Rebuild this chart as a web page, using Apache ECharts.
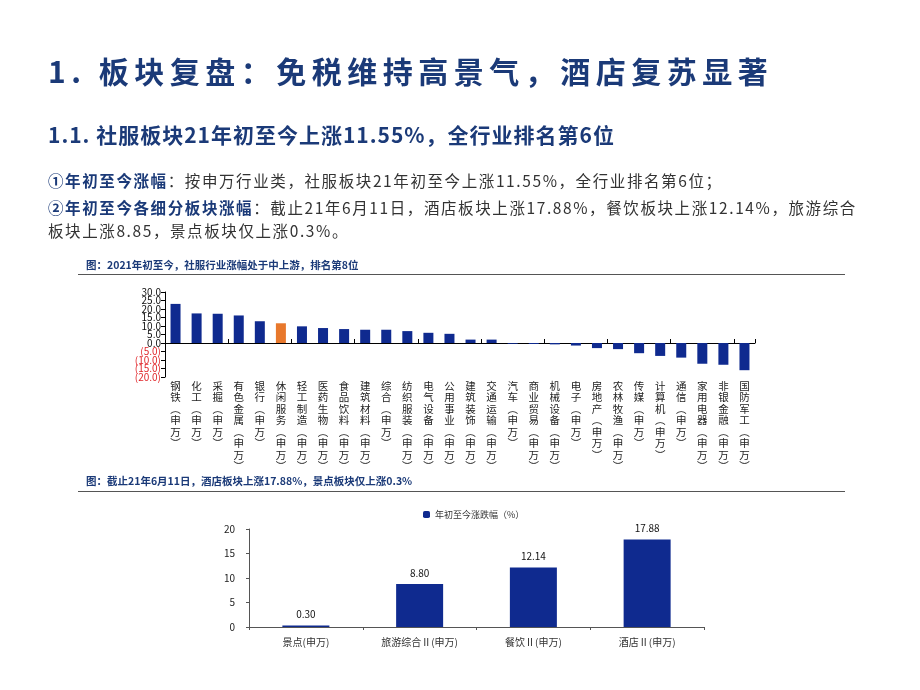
<!DOCTYPE html>
<html>
<head>
<meta charset="utf-8">
<script src="https://cdn.jsdelivr.net/npm/echarts@6/dist/echarts.min.js"></script>
<style>
  body { margin: 0; background: #fff; font-family: "Noto Sans CJK SC", sans-serif; }
  #chart { position: absolute; left: 0; top: 0; width: 920px; height: 690px; }
  .t { position: absolute; white-space: nowrap; }
  .blue { color: #1b3a78; font-weight: bold; }
  .line { position: absolute; height: 1px; background: #555; }
</style>
</head>
<body>
<div id="chart"></div>
<div class="t blue" style="left:48px;top:48px;font-size:30px;letter-spacing:5.5px;">1. 板块复盘：免税维持高景气，酒店复苏显著</div>
<div class="t blue" style="left:48px;top:119px;font-size:21px;letter-spacing:1px;">1.1. 社服板块21年初至今上涨11.55%，全行业排名第6位</div>
<div class="t" style="left:48px;top:169px;font-size:15.5px;letter-spacing:1.6px;color:#333;"><span class="blue">①年初至今涨幅</span>：按申万行业类，社服板块21年初至今上涨11.55%，全行业排名第6位；</div>
<div class="t" style="left:48px;top:196px;font-size:15.5px;letter-spacing:1.6px;color:#333;"><span class="blue">②年初至今各细分板块涨幅</span>：截止21年6月11日，酒店板块上涨17.88%，餐饮板块上涨12.14%，旅游综合</div>
<div class="t" style="left:48px;top:219px;font-size:15.5px;letter-spacing:1.6px;color:#333;">板块上涨8.85，景点板块仅上涨0.3%。</div>
<div class="t blue" style="left:86px;top:257px;font-size:10.5px;">图：2021年初至今，社服行业涨幅处于中上游，排名第8位</div>
<div class="line" style="left:78px;top:274px;width:767px;"></div>
<div class="t blue" style="left:86px;top:473px;font-size:10.5px;">图：截止21年6月11日，酒店板块上涨17.88%，景点板块仅上涨0.3%</div>
<div class="line" style="left:78px;top:491px;width:767px;"></div>
<script>
// 申万一级行业 年初至今涨幅
const industries = ['钢铁', '化工', '采掘', '有色金属', '银行', '休闲服务', '轻工制造', '医药生物',
    '食品饮料', '建筑材料', '综合', '纺织服装', '电气设备', '公用事业', '建筑装饰', '交通运输',
    '汽车', '商业贸易', '机械设备', '电子', '房地产', '农林牧渔', '传媒', '计算机', '通信',
    '家用电器', '非银金融', '国防军工'];
const industryValues = [23.0, 17.4, 17.2, 16.2, 12.8, 11.6, 9.8, 8.8, 8.2, 7.8, 7.8, 7.0, 6.0, 5.4,
    2.0, 2.0, -0.5, -0.6, -0.8, -1.5, -3.0, -3.6, -6.0, -7.6, -8.6, -12.2, -12.8, -16.0];
const highlight = '休闲服务';
// 纵轴刻度标签（自下而上）
const yTickLabels = ['(20.0)', '(15.0)', '(10.0)', '(5.0)', '0.0', '5.0', '10.0', '15.0', '20.0', '25.0', '30.0'];

// 社服细分板块
const subSectors = ['景点(申万)', '旅游综合Ⅱ(申万)', '餐饮Ⅱ(申万)', '酒店Ⅱ(申万)'];
const subValues = [0.30, 8.80, 12.14, 17.88];

const BLUE = '#0f2a8f';
const ORANGE = '#e8782c';

// 竖排标签
function vertical(name) {
    return (name + '︵申万︶').split('').join('\n');
}

const chart = echarts.init(document.getElementById('chart'));
chart.setOption({
    animation: false,
    textStyle: { fontFamily: 'Noto Sans CJK SC' },
    legend: {
        data: ['年初至今涨跌幅（%）'],
        left: 418, top: 505,
        itemWidth: 7, itemHeight: 7, itemGap: 2,
        textStyle: { fontSize: 9, color: '#333' }
    },
    grid: [
        { left: 165, top: 292, width: 590, height: 85 },
        { left: 249, top: 529, width: 455, height: 98 }
    ],
    xAxis: [
        {
            gridIndex: 0, type: 'category', data: industries,
            axisLine: { onZero: true, lineStyle: { color: '#000' } },
            axisTick: { show: true, length: 4, inside: true },
            axisLabel: { show: false }
        },
        {
            gridIndex: 0, type: 'category', data: industries, position: 'bottom',
            axisLine: { show: false }, axisTick: { show: false },
            axisLabel: {
                interval: 0, margin: 3, fontSize: 10.5, lineHeight: 11.5, color: '#222',
                verticalAlign: 'top',
                formatter: vertical
            }
        },
        {
            gridIndex: 1, type: 'category', data: subSectors,
            axisLine: { lineStyle: { color: '#555' } },
            axisTick: { show: true, length: 3 },
            axisLabel: { fontSize: 10, color: '#333', margin: 10 }
        }
    ],
    yAxis: [
        {
            gridIndex: 0, type: 'value', min: -20, max: 30, interval: 5,
            axisLine: { show: true, lineStyle: { color: '#000' } },
            axisTick: { show: true, length: 4 },
            splitLine: { show: false },
            axisLabel: { show: false }
        },
        {
            gridIndex: 1, type: 'value', min: 0, max: 20, interval: 5,
            axisLine: { show: true, lineStyle: { color: '#555' } },
            axisTick: { show: true, length: 3 },
            splitLine: { show: false },
            axisLabel: { fontSize: 10, color: '#222', margin: 14 }
        },
        {
            gridIndex: 0, type: 'category', data: yTickLabels, boundaryGap: false,
            position: 'left',
            axisLine: { show: false }, axisTick: { show: false },
            axisLabel: {
                interval: 0, hideOverlap: false, margin: 4, fontSize: 10, lineHeight: 8,
                color: v => v.charAt(0) === '(' ? '#e0262a' : '#111'
            }
        }
    ],
    series: [
        {
            type: 'bar', xAxisIndex: 0, yAxisIndex: 0, barWidth: 10,
            data: industryValues.map((v, i) => ({
                value: v,
                itemStyle: { color: industries[i] === highlight ? ORANGE : BLUE }
            }))
        },
        {
            name: '年初至今涨跌幅（%）', type: 'bar', xAxisIndex: 2, yAxisIndex: 1, barWidth: 47,
            itemStyle: { color: BLUE },
            label: {
                show: true, position: 'top', fontSize: 10, color: '#111', distance: 6,
                formatter: p => p.value.toFixed(2)
            },
            data: subValues
        }
    ]
});
</script>
</body>
</html>
